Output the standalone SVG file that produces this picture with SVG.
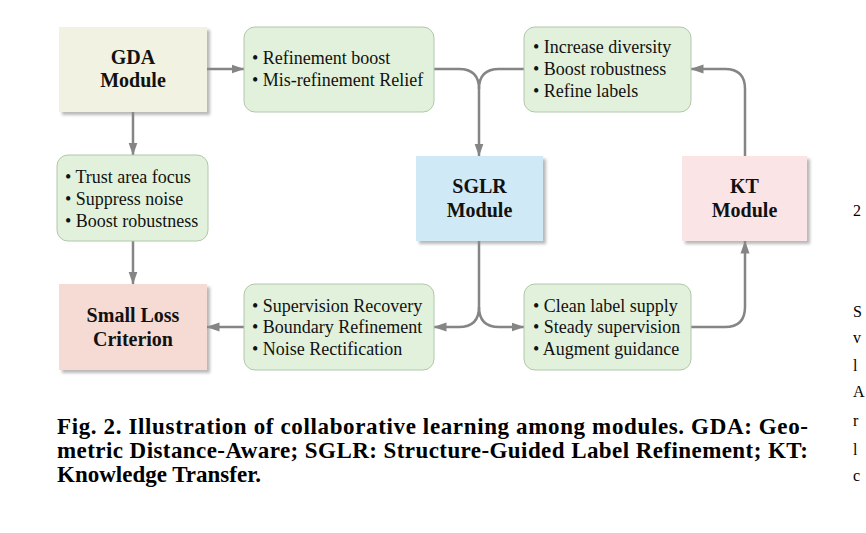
<svg xmlns="http://www.w3.org/2000/svg" width="866" height="533" viewBox="0 0 866 533">
<style>
.mod{stroke:none;filter:url(#sh)}
.box{fill:#e2f1dc;stroke:#b2c6ac;stroke-width:1}
.t{font-family:"Liberation Serif","Times New Roman",serif;font-size:20px;font-weight:bold;fill:#111;text-anchor:middle}
.b{font-family:"Liberation Serif","Times New Roman",serif;font-size:18px;fill:#111}
.cap{font-family:"Liberation Serif","Times New Roman",serif;font-size:23px;font-weight:bold;fill:#000}
.edge{font-family:"Liberation Serif","Times New Roman",serif;font-size:16px;fill:#000}
.c{fill:none;stroke:#858585;stroke-width:2.5}
</style>
<defs>
<filter id="sh" x="-10%" y="-10%" width="130%" height="130%">
<feDropShadow dx="3" dy="3" stdDeviation="1.5" flood-color="#8a8a8a" flood-opacity="0.6"/>
</filter>
<marker id="ah" markerUnits="userSpaceOnUse" markerWidth="13" markerHeight="10" refX="12.5" refY="5" orient="auto">
<path d="M0,0.5 L13,5 L0,9.5 z" fill="#858585"/>
</marker>
</defs>
<rect width="866" height="533" fill="#fff"/>

<g id="connectors">
<path class="c" d="M207,69 H244" marker-end="url(#ah)"/>
<path class="c" d="M133,112 V155" marker-end="url(#ah)"/>
<path class="c" d="M133,241 V284" marker-end="url(#ah)"/>
<path class="c" d="M244,327 H207" marker-end="url(#ah)"/>
<path class="c" d="M434,69 H459 Q479,69 479,89 V156" marker-end="url(#ah)"/>
<path class="c" d="M524,69 H499 Q479,69 479,89"/>
<path class="c" d="M479,241 V307 Q479,327 459,327 H434" marker-end="url(#ah)"/>
<path class="c" d="M479,307 Q479,327 499,327 H524" marker-end="url(#ah)"/>
<path class="c" d="M691,327 H725 Q745,327 745,307 V241" marker-end="url(#ah)"/>
<path class="c" d="M745,156 V89 Q745,69 725,69 H691" marker-end="url(#ah)"/>
</g>

<g id="gda">
<rect class="mod" x="59" y="27" width="148" height="85" fill="#f1f2e1"/>
<text class="t" x="133" y="64">GDA</text>
<text class="t" x="133" y="87">Module</text>
</g>

<g id="refine">
<rect class="box" x="244" y="27" width="190" height="85" rx="11"/>
<text class="b" x="252" y="64">• Refinement boost</text>
<text class="b" x="252" y="86">• Mis-refinement Relief</text>
</g>

<g id="increase">
<rect class="box" x="524" y="27" width="167" height="85" rx="11"/>
<text class="b" x="533" y="53">• Increase diversity</text>
<text class="b" x="533" y="75">• Boost robustness</text>
<text class="b" x="533" y="97">• Refine labels</text>
</g>

<g id="trust">
<rect class="box" x="57" y="155" width="151" height="86" rx="11"/>
<text class="b" x="65" y="183">• Trust area focus</text>
<text class="b" x="65" y="205">• Suppress noise</text>
<text class="b" x="65" y="227">• Boost robustness</text>
</g>

<g id="sglr">
<rect class="mod" x="416" y="156" width="127" height="85" fill="#cfe9f7"/>
<text class="t" x="479.5" y="193">SGLR</text>
<text class="t" x="479.5" y="217">Module</text>
</g>

<g id="kt">
<rect class="mod" x="682" y="156" width="125" height="85" fill="#fbe4e5"/>
<text class="t" x="744.5" y="193">KT</text>
<text class="t" x="744.5" y="217">Module</text>
</g>

<g id="smallloss">
<rect class="mod" x="59" y="284" width="148" height="86" fill="#f5dbd3"/>
<text class="t" x="133" y="322">Small Loss</text>
<text class="t" x="133" y="346">Criterion</text>
</g>

<g id="supervision">
<rect class="box" x="244" y="284" width="190" height="86" rx="11"/>
<text class="b" x="252" y="312">• Supervision Recovery</text>
<text class="b" x="252" y="333">• Boundary Refinement</text>
<text class="b" x="252" y="355">• Noise Rectification</text>
</g>

<g id="clean">
<rect class="box" x="524" y="284" width="167" height="86" rx="11"/>
<text class="b" x="533" y="312">• Clean label supply</text>
<text class="b" x="533" y="333">• Steady supervision</text>
<text class="b" x="533" y="355">• Augment guidance</text>
</g>

<g id="caption">
<text class="cap" x="57" y="434" textLength="751" lengthAdjust="spacing">Fig. 2. Illustration of collaborative learning among modules.  GDA: Geo-</text>
<text class="cap" x="57" y="458" textLength="751" lengthAdjust="spacing">metric Distance-Aware; SGLR: Structure-Guided Label Refinement; KT:</text>
<text class="cap" x="57" y="482">Knowledge Transfer.</text>
</g>

<g id="edge-text">
<text class="edge" x="853" y="216">2</text>
<text class="edge" x="853" y="317">S</text>
<text class="edge" x="853" y="343">v</text>
<text class="edge" x="853" y="371">l</text>
<text class="edge" x="853" y="397">A</text>
<text class="edge" x="853" y="426">r</text>
<text class="edge" x="853" y="455">l</text>
<text class="edge" x="853" y="481">c</text>
</g>
</svg>
